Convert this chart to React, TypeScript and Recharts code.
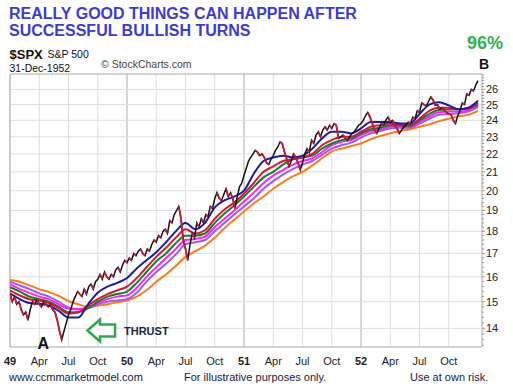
import { LineChart, Line, XAxis, YAxis, ReferenceLine } from "recharts";

// weekly closes
const price1949 = [
  15.3, 15.0, 15.2, 14.9, 15.0, 14.7, 14.5, 14.6, 14.3, 14.7, 15.0, 14.9, 15.1,
  14.9, 14.8, 15.0, 14.9, 14.8, 14.9, 14.7, 14.6, 14.3, 13.9, 13.6, 13.9, 14.2,
  14.5, 14.7, 15.0, 15.2, 15.4, 15.3, 15.2, 15.5, 15.3, 15.6, 15.7, 15.5, 15.8,
  15.9, 16.1, 15.9, 16.2, 16.0, 15.9, 16.1, 16.0, 16.3, 16.4, 16.2, 16.5, 16.7,
];
const price1950 = [
  16.6, 16.8, 16.7, 17.0, 16.9, 17.1, 17.2, 17.0, 16.9, 17.2, 17.1, 17.4, 17.6,
  17.5, 17.8, 17.7, 18.0, 18.1, 17.9, 18.5, 18.4, 18.8, 19.0, 19.2, 18.6, 17.6,
  17.2, 16.7, 17.4, 17.9, 17.7, 18.4, 18.2, 18.6, 18.4, 18.8, 18.7, 19.2, 19.1,
  19.6, 19.9, 19.6, 19.5, 19.8, 20.1, 19.7, 19.9, 19.6, 19.1, 19.7, 20.2, 20.4,
];
const price1951 = [
  20.8, 21.2, 21.6, 21.8, 22.0, 22.2, 22.1, 21.9, 22.0, 21.8, 21.5, 21.4, 21.7,
  21.9, 22.2, 22.4, 22.7, 22.6, 22.1, 21.7, 21.3, 21.6, 22.0, 21.8, 21.5, 21.1,
  21.5, 22.0, 22.3, 22.1, 22.8, 22.6, 23.1, 23.3, 23.0, 23.4, 23.6, 23.4, 23.7,
  23.5, 23.8, 23.7, 22.9, 23.0, 23.1, 22.9, 22.8, 23.0, 23.2, 23.3, 23.5, 23.7,
];
const price1952 = [
  23.8, 24.0, 24.3, 24.5, 24.2, 23.8, 23.4, 23.2, 23.5, 23.8, 23.7, 24.0, 24.2,
  23.9, 24.0, 23.7, 23.5, 23.2, 23.4, 23.6, 23.7, 23.9, 23.8, 24.2, 24.1, 24.6,
  24.5, 25.1, 25.0, 24.9, 25.2, 25.5, 25.3, 24.95, 25.0, 24.7, 24.8, 24.6, 24.5,
  24.4, 24.35, 24.0, 23.8, 24.3, 24.6, 25.1, 25.0, 25.7, 25.6, 26.0, 25.9, 26.3,
  26.6,
];

// moving averages, one value per month start (Jan 49 .. Dec 52, then year end)
const blueMA = [
  15.33, 15.1, 14.95, 14.92, 14.85, 14.65, 14.4, 14.4, 14.9, 15.35, 15.6, 15.75,
  15.95, 16.35, 16.7, 17.05, 17.5, 18.0, 18.4, 18.1, 18.4, 19.15, 19.5, 19.7,
  20.0, 20.9, 21.6, 21.8, 21.9, 21.8, 21.9, 22.3, 22.9, 23.3, 23.3, 23.2,
  23.5, 23.9, 23.9, 23.9, 23.8, 23.8, 24.4, 25.0, 25.15, 24.95, 24.7, 24.8,
  25.25,
];
const redMA = [
  15.45, 15.25, 15.1, 15.05, 14.95, 14.75, 14.55, 14.6, 14.85, 15.1, 15.3, 15.45,
  15.6, 15.95, 16.4, 16.85, 17.25, 17.7, 18.1, 17.9, 18.05, 18.6, 19.05, 19.4,
  19.85, 20.4, 21.0, 21.3, 21.6, 21.7, 21.8, 22.0, 22.5, 22.8, 23.0, 23.0,
  23.3, 23.6, 23.7, 23.8, 23.7, 23.7, 24.1, 24.6, 24.8, 24.8, 24.7, 24.75,
  25.1,
];
const greenMA = [
  15.58, 15.4, 15.2, 15.1, 15.0, 14.8, 14.6, 14.6, 14.75, 15.0, 15.2, 15.3,
  15.4, 15.75, 16.2, 16.65, 17.0, 17.45, 17.8, 17.8, 17.9, 18.4, 18.85, 19.25,
  19.7, 20.2, 20.7, 21.0, 21.4, 21.7, 21.8, 21.9, 22.3, 22.6, 22.8, 22.9,
  23.2, 23.45, 23.55, 23.7, 23.7, 23.65, 24.0, 24.4, 24.65, 24.7, 24.7, 24.75,
  25.0,
];
const magentaMA = [
  15.7, 15.5, 15.35, 15.2, 15.1, 14.9, 14.73, 14.7, 14.75, 14.95, 15.1, 15.2,
  15.25, 15.55, 16.0, 16.4, 16.8, 17.2, 17.6, 17.65, 17.75, 18.2, 18.6, 19.0,
  19.45, 19.9, 20.4, 20.8, 21.1, 21.4, 21.6, 21.75, 22.1, 22.5, 22.7, 22.8,
  23.1, 23.35, 23.45, 23.6, 23.65, 23.6, 23.9, 24.25, 24.5, 24.55, 24.55, 24.65,
  24.95,
];
const violetMA = [
  15.8, 15.65, 15.5, 15.33, 15.2, 15.0, 14.78, 14.72, 14.75, 14.9, 15.0, 15.05,
  15.1, 15.35, 15.8, 16.2, 16.55, 16.95, 17.4, 17.5, 17.6, 18.0, 18.4, 18.8,
  19.2, 19.6, 20.1, 20.5, 20.85, 21.15, 21.4, 21.6, 21.95, 22.3, 22.5, 22.65,
  22.95, 23.2, 23.35, 23.5, 23.55, 23.55, 23.8, 24.1, 24.35, 24.4, 24.45, 24.55,
  24.85,
];
const orangeMA = [
  15.87, 15.8, 15.65, 15.5, 15.38, 15.23, 15.03, 14.9, 14.82, 14.85, 14.9, 14.98,
  15.05, 15.2, 15.45, 15.8, 16.1, 16.45, 16.85, 17.1, 17.35, 17.7, 18.15, 18.55,
  18.95, 19.35, 19.7, 20.1, 20.45, 20.75, 21.0, 21.35, 21.75, 22.15, 22.3, 22.45,
  22.6, 22.85, 23.05, 23.2, 23.35, 23.45, 23.6, 23.75, 23.95, 24.1, 24.25, 24.35,
  24.6,
];

const quarterTicks = [0, 0.25, 0.5, 0.75, 1, 1.25, 1.5, 1.75, 2, 2.25, 2.5, 2.75, 3, 3.25, 3.5, 3.75];
const quarterLabels = ["49", "Apr", "Jul", "Oct", "50", "Apr", "Jul", "Oct", "51", "Apr", "Jul", "Oct", "52", "Apr", "Jul", "Oct"];
const yearStarts = [1, 2, 3];
const priceTicks = [14, 15, 16, 17, 18, 19, 20, 21, 22, 23, 24, 25, 26];

const Y_MIN = 13.34;
const Y_MAX = 27.06;
const X_MAX = 4.034;

const closes = [...price1949, ...price1950, ...price1951, ...price1952];

// red overlay on falling weeks, split over two series so runs never join up
const down0: (number | null)[] = closes.map(() => null);
const down1: (number | null)[] = closes.map(() => null);
let run = -1;
let inRun = false;
for (let i = 1; i < closes.length; i++) {
  if (closes[i] < closes[i - 1]) {
    if (!inRun) {
      run++;
      inRun = true;
      (run % 2 ? down1 : down0)[i - 1] = closes[i - 1];
    }
    (run % 2 ? down1 : down0)[i] = closes[i];
  } else {
    inRun = false;
  }
}

const priceRows = closes.map((c, i) => ({ t: i / 52, close: c, down0: down0[i], down1: down1[i] }));
const monthly = (arr: number[]) => arr.map((v, m) => ({ t: m / 12, v }));

const yTicksAll: number[] = [];
for (let v = 134; v <= 270; v += 2) yTicksAll.push(v / 10);

const font = "'Liberation Sans', Arial, sans-serif";

const XTick = ({ x, y, index }: any) => {
  const label = quarterLabels[index] ?? "";
  const isYear = /^\d/.test(label);
  return (
    <text x={x} y={y} dy="0.71em" textAnchor="middle" fontSize={11} fill="#222"
      fontWeight={isYear ? "bold" : "normal"} fontFamily={font}>
      {label}
    </text>
  );
};

const YTick = ({ x, y, payload }: any) => {
  const v = payload.value;
  const major = priceTicks.includes(v);
  return (
    <g>
      <line x1={x} x2={x + (major ? 3 : 2)} y1={y} y2={y} stroke="#999" />
      {major && (
        <text x={x + 4} y={y} dy="0.36em" fontSize={11} fill="#222" fontFamily={font}>
          {v}
        </text>
      )}
    </g>
  );
};

const maLines = [
  { data: orangeMA, color: "#ff7a1a" },
  { data: violetMA, color: "#a05ae8" },
  { data: magentaMA, color: "#ff1fff" },
  { data: greenMA, color: "#13801a" },
  { data: redMA, color: "#d3183a" },
  { data: blueMA, color: "#1c1ca3" },
];

export default function App() {
  return (
    <div style={{ position: "absolute", left: 0, top: 0, width: 513, height: 387, background: "#fff", fontFamily: font }}>
      <LineChart width={513} height={387} margin={{ top: 74, right: 0, left: 10, bottom: 20 }}>
        <XAxis
          type="number"
          dataKey="t"
          domain={[0, X_MAX]}
          allowDataOverflow
          ticks={quarterTicks}
          interval={0}
          tick={<XTick />}
          tickLine={false}
          tickMargin={4}
          height={20}
          axisLine={{ stroke: "#a8a8a8" }}
        />
        <YAxis
          orientation="right"
          scale="log"
          domain={[Y_MIN, Y_MAX]}
          allowDataOverflow
          ticks={yTicksAll}
          interval={0}
          tick={<YTick />}
          tickLine={false}
          tickSize={0}
          tickMargin={0}
          width={31}
          axisLine={{ stroke: "#a8a8a8" }}
        />
        {quarterTicks.map((q) => (
          <ReferenceLine key={"q" + q} x={q} stroke="#dedede" />
        ))}
        {yearStarts.map((yr) => (
          <ReferenceLine key={"y" + yr} x={yr} stroke="#bdbdbd" />
        ))}
        {priceTicks.map((p) => (
          <ReferenceLine key={"p" + p} y={p} stroke="#dedede" />
        ))}
        <ReferenceLine x={0} stroke="#a8a8a8" />
        <ReferenceLine y={Y_MAX} stroke="#a8a8a8" />
        {maLines.map((m) => (
          <Line key={m.color} data={monthly(m.data)} dataKey="v" stroke={m.color} strokeWidth={2}
            dot={false} isAnimationActive={false} type="monotone" />
        ))}
        <Line data={priceRows} dataKey="close" stroke="#111" strokeWidth={1.5} dot={false} isAnimationActive={false} />
        <Line data={priceRows} dataKey="down0" stroke="#cc1a3a" strokeWidth={1.8} dot={false} isAnimationActive={false} connectNulls={false} />
        <Line data={priceRows} dataKey="down1" stroke="#cc1a3a" strokeWidth={1.8} dot={false} isAnimationActive={false} connectNulls={false} />
      </LineChart>
      <svg width={513} height={387} style={{ position: "absolute", left: 0, top: 0, pointerEvents: "none" }}>
        <g fontFamily={font}>
          <text x={9} y={18.5} fontSize={16} fontWeight="bold" fill="#3b3bd4">REALLY GOOD THINGS CAN HAPPEN AFTER</text>
          <text x={9} y={36} fontSize={16} fontWeight="bold" fill="#3b3bd4">SUCCESSFUL BULLISH TURNS</text>
          <text x={9.5} y={58.5} fontSize={13} fontWeight="bold" fill="#111">$SPX</text>
          <text x={47.5} y={58} fontSize={10.5} fill="#111">S&amp;P 500</text>
          <text x={9.5} y={72} fontSize={10.5} fill="#111">31-Dec-1952</text>
          <text x={101} y={68} fontSize={10.5} fill="#444">© StockCharts.com</text>
          <text x={467} y={48.5} fontSize={18} fontWeight="bold" fill="#35b04c">96%</text>
          <text x={479} y={68.5} fontSize={14} fontWeight="bold" fill="#111">B</text>
          <text x={37.5} y={348.5} fontSize={16} fontWeight="bold" fill="#111">A</text>
          <path d="M87.5 330.5 L100 319.5 L100 324.5 L115 324.5 L115 336.5 L100 336.5 L100 341.5 Z"
            fill="#fff" stroke="#2fa84c" strokeWidth={2.5} strokeLinejoin="miter" />
          <text x={124} y={335} fontSize={11} fontWeight="bold" fill="#1c2840">THRUST</text>
          <text x={9} y={381} fontSize={11} fill="#1a1a40">www.ccmmarketmodel.com</text>
          <text x={184} y={381} fontSize={11} fill="#1a1a40">For illustrative purposes only.</text>
          <text x={410} y={381} fontSize={11} fill="#1a1a40">Use at own risk.</text>
        </g>
      </svg>
    </div>
  );
}
